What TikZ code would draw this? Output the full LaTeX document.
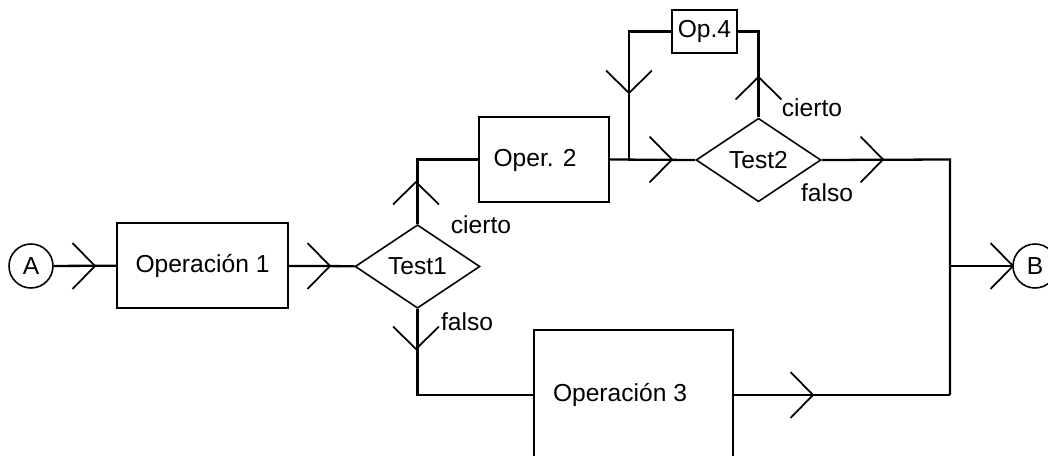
\documentclass[tikz,border=0pt]{standalone}
\usepackage{fontspec}
\setmainfont{Liberation Sans}
\usetikzlibrary{shapes.geometric}
\begin{document}
\begin{tikzpicture}[x=0.02cm,y=-0.02cm,
  font=\fontsize{14}{16}\selectfont,
  wire/.style={line width=1.3pt},
  opbox/.style={draw,line width=1.3pt,rectangle,inner sep=0pt},
  testbox/.style={draw,line width=0.9pt,diamond,inner sep=0pt,
    minimum width=2.50cm,minimum height=1.67cm,aspect=1.5},
  term/.style={draw,line width=0.9pt,circle,inner sep=0pt,minimum size=0.88cm},
  lbl/.style={inner sep=0pt},
  chev/.pic={\draw[line width=1pt] (-0.45cm,0.46cm) -- (0,0) -- (-0.45cm,-0.46cm);}
]
\clip (0,0) rectangle (1048,456);

% terminals
\node[term] (A) at (31,266) {A};
\node[term] (B) at (1035,266) {B};

% operation blocks
\node[opbox,minimum width=3.42cm,minimum height=1.70cm] (op1) at (202.5,265.5) {Operación 1};
\node[opbox,minimum width=2.60cm,minimum height=1.70cm] (op2) at (544,159.5) {};
\node[lbl] at (535,160) {Oper. 2};
\node[opbox,minimum width=1.30cm,minimum height=0.86cm] (op4) at (704.5,31.5) {Op.4};
\node[opbox,minimum width=3.98cm,minimum height=2.60cm] (op3) at (633.5,395) {};
\node[lbl] at (620,395) {Operación 3};

% decisions
\node[testbox] (t1) at (417.5,266.5) {Test1};
\node[testbox] (t2) at (758.5,160) {Test2};

% junction points
\coordinate (j1) at (629,159.5);
\coordinate (m1) at (950,159.5);
\coordinate (m2) at (950,266);
\coordinate (m3) at (950,395);

% connectors
\draw[wire] (A) -- (op1);
\draw[wire] (op1) -- (t1);
\draw[wire] (t1.north) |- (op2.west);
\draw[wire] (t1.south) |- (op3.west);
\draw[wire] (op2.east) -- (t2.west);
\draw[wire] (op4.west) -| (j1);
\draw[wire] (t2.north) |- (op4.east);
\draw[wire] (t2.east) -- (m1) -- (m3);
\draw[wire] (op3.east) -- (m3);
\draw[wire] (m2) -- (B);

% flow direction marks
\pic at (95,266) {chev};
\pic at (330,266) {chev};
\pic[rotate=90] at (416,182) {chev};
\pic[rotate=-90] at (416,349) {chev};
\pic at (672,159.5) {chev};
\pic[rotate=-90] at (629,93) {chev};
\pic[rotate=90] at (758.5,77) {chev};
\pic at (883,159.5) {chev};
\pic at (813,395) {chev};
\pic at (1013,266) {chev};

% branch labels
\node[lbl] at (481,225) {cierto};
\node[lbl] at (467,322) {falso};
\node[lbl] at (812,108) {cierto};
\node[lbl] at (827,193) {falso};
\end{tikzpicture}
\end{document}
